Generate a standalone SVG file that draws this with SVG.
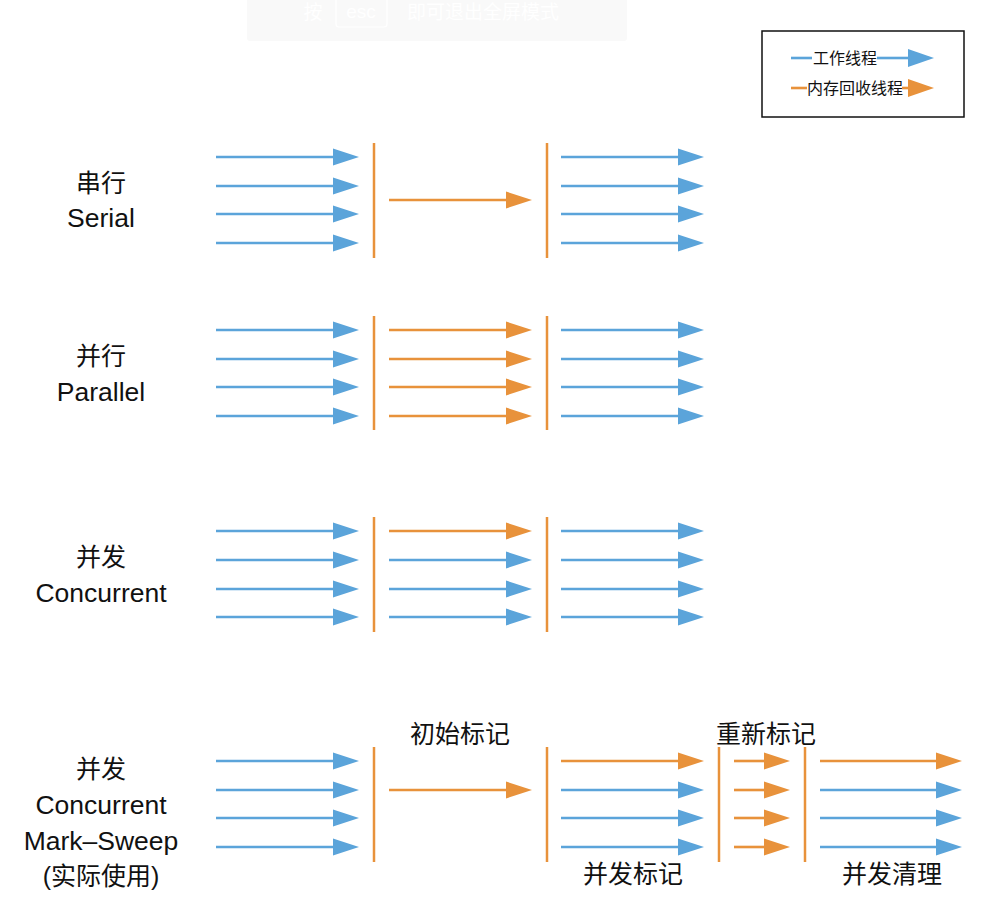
<svg xmlns="http://www.w3.org/2000/svg" width="999" height="919" viewBox="0 0 999 919">
<style>
.t{font-family:"Liberation Sans","Noto Sans CJK SC",sans-serif;font-size:25px;fill:#111;text-anchor:middle}
.l{font-size:26.5px}
.lg{font-family:"Liberation Sans","Noto Sans CJK SC",sans-serif;font-size:16px;fill:#111}
.bn{font-family:"Liberation Sans","Noto Sans CJK SC",sans-serif;font-size:19px;fill:#fff;text-anchor:middle}
.b{stroke:#5ba4da;stroke-width:2.6;fill:none;marker-end:url(#ab)}
.o{stroke:#e8923b;stroke-width:2.6;fill:none;marker-end:url(#ao)}
.bar{stroke:#e8923b;stroke-width:2.5}
</style>
<defs>
<marker id="ab" markerUnits="userSpaceOnUse" markerWidth="27" markerHeight="17" refX="1" refY="8.5" orient="auto" overflow="visible"><path d="M0,0 L26,8.5 L0,17 z" fill="#5ba4da"/></marker>
<marker id="ao" markerUnits="userSpaceOnUse" markerWidth="27" markerHeight="17" refX="1" refY="8.5" orient="auto" overflow="visible"><path d="M0,0 L26,8.5 L0,17 z" fill="#e8923b"/></marker>
<marker id="lb" markerUnits="userSpaceOnUse" markerWidth="27" markerHeight="18" refX="1" refY="9" orient="auto" overflow="visible"><path d="M0,0 L26,9 L0,18 z" fill="#5ba4da"/></marker>
<marker id="lo" markerUnits="userSpaceOnUse" markerWidth="27" markerHeight="18" refX="1" refY="9" orient="auto" overflow="visible"><path d="M0,0 L26,9 L0,18 z" fill="#e8923b"/></marker>
</defs>
<rect width="999" height="919" fill="#fff"/>

<g id="banner">
<rect x="247" y="-6" width="380" height="47" rx="3" fill="#f9f9f9"/>
<text class="bn" x="313" y="19">按</text>
<rect x="336" y="-8" width="51" height="35" rx="3" fill="none" stroke="#fff" stroke-width="1.2"/>
<text class="bn" x="361" y="18">esc</text>
<text class="bn" x="483" y="19">即可退出全屏模式</text>
</g>

<g id="legend">
<rect x="762" y="31" width="202" height="86" fill="#fff" stroke="#111" stroke-width="1.5"/>
<line x1="791" y1="58" x2="812" y2="58" stroke="#5ba4da" stroke-width="2.6"/>
<text class="lg" x="813" y="64">工作线程</text>
<line x1="877" y1="58" x2="909" y2="58" stroke="#5ba4da" stroke-width="2.6" marker-end="url(#lb)"/>
<line x1="791" y1="88" x2="807" y2="88" stroke="#e8923b" stroke-width="2.6"/>
<text class="lg" x="807" y="94">内存回收线程</text>
<line x1="902" y1="88" x2="909" y2="88" stroke="#e8923b" stroke-width="2.6" marker-end="url(#lo)"/>
</g>

<g id="labels">
<text class="t" x="101" y="192">串行</text>
<text class="t l" x="101" y="227">Serial</text>
<text class="t" x="101" y="365">并行</text>
<text class="t l" x="101" y="401">Parallel</text>
<text class="t" x="101" y="566">并发</text>
<text class="t l" x="101" y="602">Concurrent</text>
<text class="t" x="101" y="778">并发</text>
<text class="t l" x="101" y="814">Concurrent</text>
<text class="t l" x="101" y="850">Mark–Sweep</text>
<text class="t" x="101" y="885">(实际使用)</text>
<text class="t" x="460" y="743">初始标记</text>
<text class="t" x="766" y="743">重新标记</text>
<text class="t" x="633" y="883">并发标记</text>
<text class="t" x="892" y="883">并发清理</text>
</g>

<g id="bars">
<line class="bar" x1="374" y1="143" x2="374" y2="258"/>
<line class="bar" x1="547" y1="143" x2="547" y2="258"/>
<line class="bar" x1="374" y1="316" x2="374" y2="430"/>
<line class="bar" x1="547" y1="316" x2="547" y2="430"/>
<line class="bar" x1="374" y1="517" x2="374" y2="632"/>
<line class="bar" x1="547" y1="517" x2="547" y2="632"/>
<line class="bar" x1="374" y1="747" x2="374" y2="862"/>
<line class="bar" x1="547" y1="747" x2="547" y2="862"/>
<line class="bar" x1="719" y1="747" x2="719" y2="862"/>
<line class="bar" x1="805" y1="747" x2="805" y2="862"/>
</g>

<g id="connectors">
<line class="b" x1="216" y1="157" x2="334" y2="157"/>
<line class="b" x1="216" y1="186" x2="334" y2="186"/>
<line class="b" x1="216" y1="214" x2="334" y2="214"/>
<line class="b" x1="216" y1="243" x2="334" y2="243"/>
<line class="o" x1="389" y1="200" x2="507" y2="200"/>
<line class="b" x1="561" y1="157" x2="679" y2="157"/>
<line class="b" x1="561" y1="186" x2="679" y2="186"/>
<line class="b" x1="561" y1="214" x2="679" y2="214"/>
<line class="b" x1="561" y1="243" x2="679" y2="243"/>
<line class="b" x1="216" y1="330" x2="334" y2="330"/>
<line class="b" x1="216" y1="359" x2="334" y2="359"/>
<line class="b" x1="216" y1="387" x2="334" y2="387"/>
<line class="b" x1="216" y1="416" x2="334" y2="416"/>
<line class="o" x1="389" y1="330" x2="507" y2="330"/>
<line class="o" x1="389" y1="359" x2="507" y2="359"/>
<line class="o" x1="389" y1="387" x2="507" y2="387"/>
<line class="o" x1="389" y1="416" x2="507" y2="416"/>
<line class="b" x1="561" y1="330" x2="679" y2="330"/>
<line class="b" x1="561" y1="359" x2="679" y2="359"/>
<line class="b" x1="561" y1="387" x2="679" y2="387"/>
<line class="b" x1="561" y1="416" x2="679" y2="416"/>
<line class="b" x1="216" y1="531" x2="334" y2="531"/>
<line class="b" x1="216" y1="560" x2="334" y2="560"/>
<line class="b" x1="216" y1="589" x2="334" y2="589"/>
<line class="b" x1="216" y1="617" x2="334" y2="617"/>
<line class="o" x1="389" y1="531" x2="507" y2="531"/>
<line class="b" x1="389" y1="560" x2="507" y2="560"/>
<line class="b" x1="389" y1="589" x2="507" y2="589"/>
<line class="b" x1="389" y1="617" x2="507" y2="617"/>
<line class="b" x1="561" y1="531" x2="679" y2="531"/>
<line class="b" x1="561" y1="560" x2="679" y2="560"/>
<line class="b" x1="561" y1="589" x2="679" y2="589"/>
<line class="b" x1="561" y1="617" x2="679" y2="617"/>
<line class="b" x1="216" y1="761" x2="334" y2="761"/>
<line class="b" x1="216" y1="790" x2="334" y2="790"/>
<line class="b" x1="216" y1="818" x2="334" y2="818"/>
<line class="b" x1="216" y1="847" x2="334" y2="847"/>
<line class="o" x1="389" y1="790" x2="507" y2="790"/>
<line class="o" x1="561" y1="761" x2="679" y2="761"/>
<line class="b" x1="561" y1="790" x2="679" y2="790"/>
<line class="b" x1="561" y1="818" x2="679" y2="818"/>
<line class="b" x1="561" y1="847" x2="679" y2="847"/>
<line class="o" x1="734" y1="761" x2="765" y2="761"/>
<line class="o" x1="734" y1="790" x2="765" y2="790"/>
<line class="o" x1="734" y1="818" x2="765" y2="818"/>
<line class="o" x1="734" y1="847" x2="765" y2="847"/>
<line class="o" x1="820" y1="761" x2="937" y2="761"/>
<line class="b" x1="820" y1="790" x2="937" y2="790"/>
<line class="b" x1="820" y1="818" x2="937" y2="818"/>
<line class="b" x1="820" y1="847" x2="937" y2="847"/>
</g>
</svg>
